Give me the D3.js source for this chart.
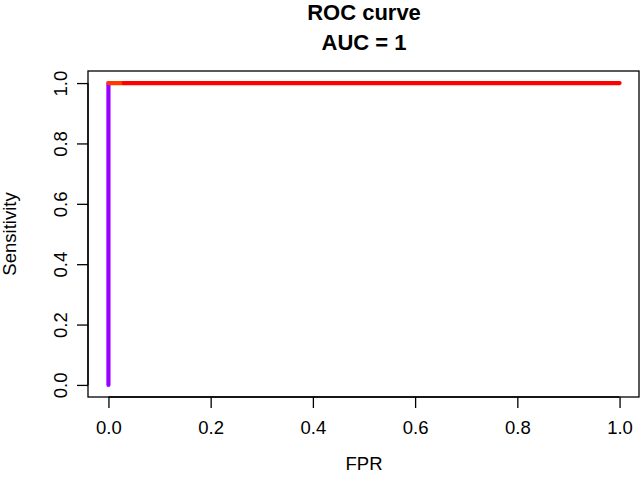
<!DOCTYPE html>
<html><head><meta charset="utf-8">
<script src="https://cdn.jsdelivr.net/npm/d3@7"></script>
<style>body{margin:0;background:#fff}svg{display:block}text{font-family:"Liberation Sans",Arial,Helvetica,sans-serif;fill:#000}</style>
</head><body>
<svg id="c" width="640" height="486"></svg>
<script>
const titleLines = ["ROC curve", "AUC = 1"];
const xLabel = "FPR";
const yLabel = "Sensitivity";
const xTicks = [0, 0.2, 0.4, 0.6, 0.8, 1.0];
const yTicks = [0, 0.2, 0.4, 0.6, 0.8, 1.0];
// curve points (FPR, TPR) and per-point threshold-scaled colour value
const fpr = [0, 0, 0.03, 1];
const tpr = [0, 1, 1, 1];
const segColors = ["#9a00ff", "#ff3a00", "#ff0000"];

const svg = d3.select("#c");
const box = {l: 88, r: 640, t: 71, b: 397};
const pad = 0.04;
const xs = d3.scaleLinear().domain([0 - pad/(1-2*pad)*0 , 1]).range([0,1]);
const x = d3.scaleLinear().domain([-0.04, 1.04]).range([box.l, box.r]);
const y = d3.scaleLinear().domain([-0.04, 1.04]).range([box.b, box.t]);

// box
svg.append("rect").attr("x", box.l).attr("y", box.t).attr("width", box.r - box.l - 1).attr("height", box.b - box.t)
  .attr("fill", "none").attr("stroke", "#000").attr("stroke-width", 1.3);

const fmt = d3.format(".1f");
// x axis
const xa = svg.append("g").attr("transform", `translate(0,${box.b})`)
  .call(d3.axisBottom(x).tickValues(xTicks).tickFormat(fmt).tickSize(11).tickPadding(13));
xa.select(".domain").attr("d", `M${x(0)},0H${x(1)}`).attr("stroke-width", 1.3);
xa.selectAll(".tick line").attr("stroke-width", 1.3);
xa.selectAll("text").attr("font-size", 18.5).attr("font-family", "Liberation Sans, Arial, sans-serif");

// y axis
const ya = svg.append("g").attr("transform", `translate(${box.l},0)`)
  .call(d3.axisLeft(y).tickValues(yTicks).tickFormat(fmt).tickSize(11).tickPadding(0));
ya.select(".domain").attr("d", `M0,${y(0)}V${y(1)}`).attr("stroke-width", 1.3);
ya.selectAll(".tick line").attr("stroke-width", 1.3);
ya.selectAll(".tick text").attr("font-size", 18.5).attr("font-family", "Liberation Sans, Arial, sans-serif")
  .attr("x", null).attr("dy", null)
  .attr("text-anchor", "middle")
  .attr("transform", "translate(-21,0) rotate(-90)");

// titles
titleLines.forEach((t, i) => {
  svg.append("text").attr("x", (box.l + box.r) / 2).attr("y", 20 + i * 29.5)
    .attr("text-anchor", "middle").attr("font-weight", "bold").attr("font-size", 22).text(t);
});
svg.append("text").attr("x", (box.l + box.r) / 2).attr("y", 470).attr("text-anchor", "middle")
  .attr("font-size", 18.5).text(xLabel);
svg.append("text").attr("transform", `translate(16,${(box.t + box.b) / 2}) rotate(-90)`)
  .attr("text-anchor", "middle").attr("font-size", 18.5).text(yLabel);

// curve segments
const pts = fpr.map((f, i) => [f, tpr[i]]);
const segs = d3.pairs(pts);
svg.append("g").selectAll("line").data(segs).join("line")
  .attr("x1", d => x(d[0][0])).attr("y1", d => y(d[0][1]))
  .attr("x2", d => x(d[1][0])).attr("y2", d => y(d[1][1]))
  .attr("stroke", (d, i) => segColors[i]).attr("stroke-width", 4.2).attr("stroke-linecap", "round");
</script>
</body></html>
